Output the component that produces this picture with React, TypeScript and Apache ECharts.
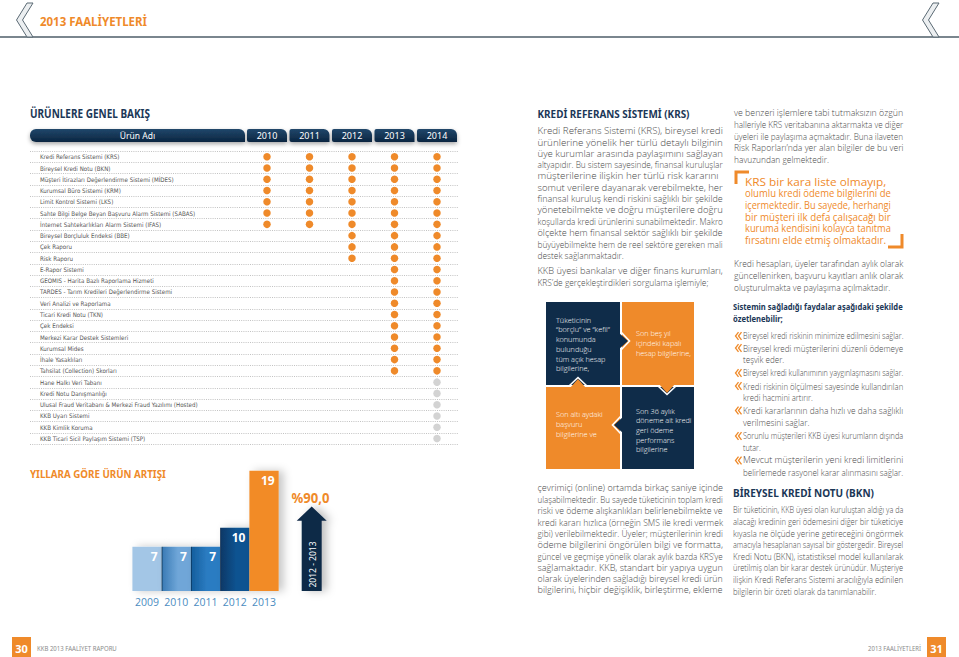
import React, { useEffect, useRef } from "react";
import * as echarts from "echarts";

// ---------------- DATA ----------------
const pageTitle = "2013 FAALİYETLERİ";
const tableTitle = "ÜRÜNLERE GENEL BAKIŞ";
const productHeader = "Ürün Adı";
const tableYears = ["2010", "2011", "2012", "2013", "2014"];
const products = [
  "Kredi Referans Sistemi (KRS)",
  "Bireysel Kredi Notu (BKN)",
  "Müşteri İtirazları Değerlendirme Sistemi (MİDES)",
  "Kurumsal Büro Sistemi (KRM)",
  "Limit Kontrol Sistemi (LKS)",
  "Sahte Bilgi Belge Beyan Başvuru Alarm Sistemi (SABAS)",
  "İnternet Sahtekarlıkları Alarm Sistemi (IFAS)",
  "Bireysel Borçluluk Endeksi (BBE)",
  "Çek Raporu",
  "Risk Raporu",
  "E-Rapor Sistemi",
  "GEOMIS - Harita Bazlı Raporlama Hizmeti",
  "TARDES - Tarım Kredileri Değerlendirme Sistemi",
  "Veri Analizi ve Raporlama",
  "Ticari Kredi Notu (TKN)",
  "Çek Endeksi",
  "Merkezi Karar Destek Sistemleri",
  "Kurumsal Mides",
  "İhale Yasaklıları",
  "Tahsilat (Collection) Skorları",
  "Hane Halkı Veri Tabanı",
  "Kredi Notu Danışmanlığı",
  "Ulusal Fraud Veritabanı & Merkezi Fraud Yazılımı (Hosted)",
  "KKB Uyarı Sistemi",
  "KKB Kimlik Koruma",
  "KKB Ticari Sicil Paylaşım Sistemi (TSP)",
];
const productStartYear = [
  2010, 2010, 2010, 2010, 2010, 2010, 2010,
  2012, 2012, 2012,
  2013, 2013, 2013, 2013, 2013, 2013, 2013, 2013, 2013, 2013,
  2014, 2014, 2014, 2014, 2014, 2014,
];
const productPlanned = [
  false, false, false, false, false, false, false, false, false, false,
  false, false, false, false, false, false, false, false, false, false,
  true, true, true, true, true, true,
];

const growthTitle = "YILLARA GÖRE ÜRÜN ARTIŞI";
const growthYears = ["2009", "2010", "2011", "2012", "2013"];
const growthCounts = [7, 7, 7, 10, 19];
const growthRate = "%90,0";
const growthPeriod = "2012 - 2013";

// ---------------- TEXT CONTENT ----------------
const krsTitle = "KREDİ REFERANS SİSTEMİ (KRS)";
const krsPara1 = [
  "Kredi Referans Sistemi (KRS), bireysel kredi",
  "ürünlerine yönelik her türlü detaylı bilginin",
  "üye kurumlar arasında paylaşımını sağlayan",
  "altyapıdır. Bu sistem sayesinde, finansal kuruluşlar",
  "müşterilerine ilişkin her türlü risk kararını",
  "somut verilere dayanarak verebilmekte, her",
  "finansal kuruluş kendi riskini sağlıklı bir şekilde",
  "yönetebilmekte ve doğru müşterilere doğru",
  "koşullarda kredi ürünlerini sunabilmektedir. Makro",
  "ölçekte hem finansal sektör sağlıklı bir şekilde",
  "büyüyebilmekte hem de reel sektöre gereken mali",
  "destek sağlanmaktadır.",
];
const krsPara2 = [
  "KKB üyesi bankalar ve diğer finans kurumları,",
  "KRS’de gerçekleştirdikleri sorgulama işlemiyle;",
];
const boxTL = ["Tüketicinin", "“borçlu” ve “kefil”", "konumunda", "bulunduğu", "tüm açık hesap", "bilgilerine,"];
const boxTR = ["Son beş yıl", "içindeki kapalı", "hesap bilgilerine,"];
const boxBL = ["Son altı aydaki", "başvuru", "bilgilerine ve"];
const boxBR = ["Son 36 aylık", "döneme ait kredi", "geri ödeme", "performans", "bilgilerine"];
const krsPara3 = [
  "çevrimiçi (online) ortamda birkaç saniye içinde",
  "ulaşabilmektedir. Bu sayede tüketicinin toplam kredi",
  "riski ve ödeme alışkanlıkları belirlenebilmekte ve",
  "kredi kararı hızlıca (örneğin SMS ile kredi vermek",
  "gibi) verilebilmektedir. Üyeler; müşterilerinin kredi",
  "ödeme bilgilerini öngörülen bilgi ve formatta,",
  "güncel ve geçmişe yönelik olarak aylık bazda KRS’ye",
  "sağlamaktadır. KKB, standart bir yapıya uygun",
  "olarak üyelerinden sağladığı bireysel kredi ürün",
  "bilgilerini, hiçbir değişiklik, birleştirme, ekleme",
];
const col2Para1 = [
  "ve benzeri işlemlere tabi tutmaksızın özgün",
  "halleriyle KRS veritabanına aktarmakta ve diğer",
  "üyeleri ile paylaşıma açmaktadır. Buna ilaveten",
  "Risk Raporları’nda yer alan bilgiler de bu veri",
  "havuzundan gelmektedir.",
];
const quoteLines = [
  "KRS bir kara liste olmayıp,",
  "olumlu kredi ödeme bilgilerini de",
  "içermektedir. Bu sayede, herhangi",
  "bir müşteri ilk defa çalışacağı bir",
  "kuruma kendisini kolayca tanıtma",
  "fırsatını elde etmiş olmaktadır.",
];
const col2Para2 = [
  "Kredi hesapları, üyeler tarafından aylık olarak",
  "güncellenirken, başvuru kayıtları anlık olarak",
  "oluşturulmakta ve paylaşıma açılmaktadır.",
];
const benefitsTitle = ["Sistemin sağladığı faydalar aşağıdaki şekilde", "özetlenebilir;"];
const benefits = [
  ["Bireysel kredi riskinin minimize edilmesini sağlar."],
  ["Bireysel kredi müşterilerini düzenli ödemeye", "teşvik eder."],
  ["Bireysel kredi kullanımının yaygınlaşmasını sağlar."],
  ["Kredi riskinin ölçülmesi sayesinde kullandırılan", "kredi hacmini artırır."],
  ["Kredi kararlarının daha hızlı ve daha sağlıklı", "verilmesini sağlar."],
  ["Sorunlu müşterileri KKB üyesi kurumların dışında", "tutar."],
  ["Mevcut müşterilerin yeni kredi limitlerini", "belirlemede rasyonel karar alınmasını sağlar."],
];
const bknTitle = "BİREYSEL KREDİ NOTU (BKN)";
const bknPara = [
  "Bir tüketicinin, KKB üyesi olan kuruluştan aldığı ya da",
  "alacağı kredinin geri ödemesini diğer bir tüketiciye",
  "kıyasla ne ölçüde yerine getireceğini öngörmek",
  "amacıyla hesaplanan sayısal bir göstergedir. Bireysel",
  "Kredi Notu (BKN), istatistiksel model kullanılarak",
  "üretilmiş olan bir karar destek ürünüdür. Müşteriye",
  "ilişkin Kredi Referans Sistemi aracılığıyla edinilen",
  "bilgilerin bir özeti olarak da tanımlanabilir.",
];
const footerLeft = "KKB 2013 FAALİYET RAPORU";
const footerRight = "2013 FAALİYETLERİ";
const pageLeft = "30";
const pageRight = "31";

// ---------------- STYLE ----------------
const FAMILY = '"Noto Sans", "Open Sans", sans-serif';
const BODY_FAMILY = '"Open Sans", "Noto Sans", sans-serif';
const BODY_WEIGHT = "300";
const ORANGE = "#ef8a2a";
const NAVY = "#0f2c49";
const HEAD = "#1b3757";
const BODY = "#4a4a4a";
const GRAY_DOT = "#d3d3d3";
const growthColors = ["#a3c6e6", "#6fa6d8", "#2b7cc2", "#0c5391", "#f28b26"];
const growthShade = ["#8fb5d9", "#3d7db7", "#16609f", "#073a69", "#f28b26"];

let mctx: CanvasRenderingContext2D | null = null;
function measure(text: string, size: number, weight = "normal", family = FAMILY) {
  if (!mctx) mctx = document.createElement("canvas").getContext("2d");
  mctx!.font = `${weight} ${size}px ${family}`;
  return mctx!.measureText(text).width;
}
function hasFont(name: string) {
  const s = "abcdefghijklmnopqrstuvwxyz ÜİŞ 0123456789";
  const a = measure(s, 20, "normal", `"${name}", monospace`);
  const b = measure(s, 20, "normal", `"${name}", serif`);
  return Math.abs(a - b) < 0.05;
}

type TOpt = {
  size: number;
  color: string;
  weight?: string;
  width?: number;
  scale?: number;
  align?: string;
  family?: string;
  rotation?: number;
  z?: number;
};
function txt(text: string, x: number, y: number, o: TOpt) {
  const family = o.family || FAMILY;
  const weight = o.weight || "normal";
  let scaleX = o.scale ?? 1;
  if (o.width) scaleX = o.width / measure(text, o.size, weight, family);
  return {
    type: "text",
    x,
    y,
    scaleX,
    rotation: o.rotation ?? 0,
    silent: true,
    z: o.z ?? 10,
    style: {
      text,
      fill: o.color,
      fontSize: o.size,
      fontWeight: weight,
      fontFamily: family,
      align: o.align || "left",
      verticalAlign: "middle",
    },
  };
}
function para(
  lines: string[], x: number, y0: number, dy: number, width: number,
  size: number, color: string, weight = BODY_WEIGHT, justifyLast = false, family = BODY_FAMILY
) {
  const scales = lines.map((l) => width / measure(l, size, weight, family));
  const body = justifyLast ? scales : scales.slice(0, -1);
  const avg = body.length ? body.reduce((a, b) => a + b, 0) / body.length : 1;
  return lines.map((l, i) => {
    const isLast = i === lines.length - 1 && !justifyLast;
    let s = isLast ? Math.min(1, avg) : Math.min(Math.max(scales[i], 0.6), 1.18);
    if (isLast && s > scales[i]) s = scales[i];
    return txt(l, x, y0 + i * dy, { size, color, weight, scale: s, family });
  });
}

function buildOption() {
  // table layout
  const T_LEFT = 30, T_RIGHT = 458.25, T_TOP = 151.1, ROW_H = 11.27;
  const YEAR_X0 = 267, YEAR_STEP = 42.5;
  const firstYear = Number(tableYears[0]);
  const xMin = firstYear - (YEAR_X0 - T_LEFT) / YEAR_STEP;
  const xMax = firstYear + (T_RIGHT - YEAR_X0) / YEAR_STEP;

  const activeDots: any[] = [];
  const plannedDots: any[] = [];
  products.forEach((p, i) => {
    tableYears.forEach((ys) => {
      const y = Number(ys);
      if (y >= productStartYear[i]) {
        (productPlanned[i] ? plannedDots : activeDots).push([y, p]);
      }
    });
  });

  let labelFamily = BODY_FAMILY;
  if (hasFont("Liberation Sans Narrow")) labelFamily = '"Liberation Sans Narrow", sans-serif';
  else if (hasFont("DejaVu Sans Condensed")) labelFamily = '"DejaVu Sans Condensed", sans-serif';
  const longest = products[22];
  let labelSize = (7 * 158) / measure(longest, 7, "normal", labelFamily);
  labelSize = Math.min(7.2, labelSize);

  // bar layout
  const B_LEFT = 132.4, B_W = 146.25, B_BOTTOM = 591, B_MAX = 20, PX_PER = 6.33;
  const B_H = B_MAX * PX_PER;

  const g: any[] = [];

  // Header
  const chev = (dx: number) => ({
    type: "polygon",
    z: 5,
    shape: { points: [[27 + dx, 3], [33 + dx, 3], [22.5 + dx, 20], [33 + dx, 37], [27 + dx, 37], [16.5 + dx, 20]] },
    style: { fill: "#eceff1", stroke: "#5b6a74", lineWidth: 1 },
  });
  g.push({ type: "line", z: 4, shape: { x1: 0, y1: 37, x2: 959, y2: 37 }, style: { stroke: "#4e5e69", lineWidth: 1.5 } });
  g.push(chev(0));
  g.push(chev(906));
  g.push(txt(pageTitle, 40, 21, { size: 13, color: ORANGE, weight: "bold", width: 107 }));

  // Table title + tabs
  g.push(txt(tableTitle, 30, 113, { size: 11.5, color: HEAD, weight: "bold", width: 120 }));
  const tabFill = {
    type: "linear", x: 0, y: 0, x2: 0, y2: 1,
    colorStops: [{ offset: 0, color: "#21476b" }, { offset: 1, color: "#0b2641" }],
  };
  g.push({
    type: "rect", z: 6,
    shape: { x: 30, y: 129, width: 215, height: 13, r: [6, 6, 0, 6] },
    style: { fill: tabFill, shadowBlur: 4, shadowOffsetY: 2, shadowColor: "rgba(0,0,0,0.35)" },
  });
  g.push(txt(productHeader, 137.5, 135.5, { size: 8.5, color: "#ffffff", align: "center", z: 11 }));
  tableYears.forEach((y, i) => {
    const cx = YEAR_X0 + i * YEAR_STEP;
    g.push({
      type: "rect", z: 6,
      shape: { x: cx - 20, y: 129, width: 40, height: 13, r: [2, 6, 0, 2] },
      style: { fill: tabFill, shadowBlur: 4, shadowOffsetY: 2, shadowColor: "rgba(0,0,0,0.35)" },
    });
    g.push(txt(y, cx, 135.5, { size: 9, color: "#ffffff", align: "center", z: 11 }));
  });

  // Growth chart extras
  g.push(txt(growthTitle, 30, 474, { size: 10.5, color: ORANGE, weight: "bold", width: 136 }));
  g.push({
    type: "polygon", z: 5,
    shape: { points: [[311.7, 506.5], [326.7, 520.7], [321.7, 520.7], [321.7, 591], [301.7, 591], [301.7, 520.7], [296.7, 520.7]] },
    style: { fill: "#0c2a47", shadowBlur: 8, shadowOffsetX: 5, shadowColor: "rgba(0,0,0,0.25)" },
  });
  g.push(txt(growthRate, 310.5, 497.5, { size: 14, color: ORANGE, weight: "bold", align: "center", width: 38 }));
  g.push(txt(growthPeriod, 312, 564.5, { size: 8.5, color: "#ffffff", align: "center", rotation: Math.PI / 2, z: 12 }));

  // Column 1
  const C1X = 537.5, C1W = 185, FS = 8.4;
  g.push(txt(krsTitle, C1X, 114, { size: 11, color: HEAD, weight: "bold", width: 152 }));
  g.push(...para(krsPara1, C1X, 131, 11.3, C1W, FS, BODY));
  g.push(...para(krsPara2, C1X, 271, 11.5, C1W, FS, BODY));

  // Quadrant boxes
  const LX = 546, MX1 = 620, MX2 = 622, RX = 694, TY = 302, MY1 = 385, MY2 = 387, BY = 469;
  g.push({ type: "rect", z: 5, shape: { x: LX, y: TY, width: MX1 - LX, height: MY1 - TY }, style: { fill: NAVY } });
  g.push({ type: "rect", z: 5, shape: { x: MX2, y: TY, width: RX - MX2, height: MY1 - TY }, style: { fill: ORANGE } });
  g.push({ type: "rect", z: 5, shape: { x: LX, y: MY2, width: MX1 - LX, height: BY - MY2 }, style: { fill: ORANGE } });
  g.push({ type: "rect", z: 5, shape: { x: MX2, y: MY2, width: RX - MX2, height: BY - MY2 }, style: { fill: NAVY } });
  const tri = (pts: number[][], fill: string, outline: number[][]) => {
    g.push({ type: "polygon", z: 6, shape: { points: pts }, style: { fill } });
    g.push({ type: "polyline", z: 7, shape: { points: outline }, style: { stroke: "#ffffff", lineWidth: 1.6, fill: null } });
  };
  tri([[619, 333], [628, 341], [619, 349]], NAVY, [[621, 332], [629.5, 341], [621, 350]]);
  tri([[659, 384], [667, 393], [675, 384]], ORANGE, [[658, 386], [667, 394.5], [676, 386]]);
  tri([[623, 417], [614, 425], [623, 433]], NAVY, [[621, 416], [612.5, 425], [621, 434]]);
  tri([[570, 388], [578, 379], [586, 388]], ORANGE, [[569, 386], [578, 377.5], [587, 386]]);
  const boxText = (lines: string[], x: number, cy: number) => {
    const dy = 9.7;
    const y0 = cy - ((lines.length - 1) * dy) / 2;
    lines.forEach((l, i) =>
      g.push(txt(l, x, y0 + i * dy, { size: 7.3, color: "#ffffff", z: 12, family: BODY_FAMILY, weight: BODY_WEIGHT }))
    );
  };
  boxText(boxTL, 556, 344);
  boxText(boxTR, 636, 343);
  boxText(boxBL, 556, 424);
  boxText(boxBR, 636, 430);

  g.push(...para(krsPara3, C1X, 488, 11.4, C1W, FS, BODY, BODY_WEIGHT, true));

  // Column 2
  const C2X = 734, C2W = 169;
  g.push(...para(col2Para1, C2X, 113.5, 11.4, C2W, FS, BODY));
  g.push({ type: "polyline", z: 6, shape: { points: [[736, 184], [736, 172], [749, 172]] }, style: { stroke: ORANGE, lineWidth: 3, fill: null } });
  g.push({ type: "polyline", z: 6, shape: { points: [[888, 247], [902, 247], [902, 234]] }, style: { stroke: ORANGE, lineWidth: 3, fill: null } });
  g.push(...para(quoteLines, 745, 182, 11.6, 146, 10, ORANGE, "normal", false, BODY_FAMILY));
  g.push(...para(col2Para2, C2X, 264, 11.5, C2W, FS, BODY));
  g.push(...para(benefitsTitle, 733, 306, 12, 170, 9, HEAD, "bold", false, FAMILY));
  const bulletY = [336, 348, 373, 386, 410.5, 436, 460.5];
  benefits.forEach((lines, k) => {
    const y = bulletY[k];
    const bx = 735.5;
    g.push({ type: "polyline", z: 6, shape: { points: [[bx + 3, y - 3.8], [bx, y], [bx + 3, y + 3.8]] }, style: { stroke: ORANGE, lineWidth: 1.3, fill: null } });
    g.push({ type: "polyline", z: 6, shape: { points: [[bx + 6, y - 3.8], [bx + 3, y], [bx + 6, y + 3.8]] }, style: { stroke: ORANGE, lineWidth: 1.3, fill: null } });
    if (lines.length === 1) {
      g.push(txt(lines[0], 743, y, { size: FS, color: BODY, width: 160, family: BODY_FAMILY, weight: BODY_WEIGHT }));
    } else {
      g.push(...para(lines, 743, y, 11.5, 160, FS, BODY));
    }
  });
  g.push(txt(bknTitle, 733, 493, { size: 11, color: HEAD, weight: "bold", width: 141 }));
  g.push(...para(bknPara, 733, 510, 11.57, 170, FS, BODY));

  // Footer
  g.push({ type: "rect", z: 5, shape: { x: 12, y: 637, width: 19, height: 20 }, style: { fill: ORANGE } });
  g.push(txt(pageLeft, 21.5, 648, { size: 11, color: "#ffffff", weight: "bold", align: "center" }));
  g.push(txt(footerLeft, 37, 648, { size: 6.5, color: "#8c8c8c", width: 80 }));
  g.push({ type: "rect", z: 5, shape: { x: 927, y: 637, width: 19, height: 20 }, style: { fill: ORANGE } });
  g.push(txt(pageRight, 936.5, 648, { size: 11, color: "#ffffff", weight: "bold", align: "center" }));
  g.push(txt(footerRight, 921, 648, { size: 6.5, color: "#8c8c8c", align: "right", width: 53 }));

  const barData = growthCounts.map((v, i) => ({
    value: v,
    itemStyle: {
      color: i === growthCounts.length - 1
        ? growthColors[i]
        : {
            type: "linear", x: 0, y: 0, x2: 1, y2: 0,
            colorStops: [
              { offset: 0, color: i === 0 ? growthColors[i] : "#0b2b4a" },
              { offset: 0.05, color: i === 0 ? growthColors[i] : growthShade[i] },
              { offset: 0.55, color: growthColors[i] },
              { offset: 1, color: growthColors[i] },
            ],
          },
    },
  }));

  return {
    animation: false,
    backgroundColor: "#ffffff",
    textStyle: { fontFamily: FAMILY },
    grid: [
      { left: T_LEFT, top: T_TOP, width: T_RIGHT - T_LEFT, height: ROW_H * products.length, containLabel: false },
      { left: B_LEFT, top: B_BOTTOM - B_H, width: B_W, height: B_H, containLabel: false },
    ],
    xAxis: [
      { type: "value", gridIndex: 0, min: xMin, max: xMax, show: false, splitLine: { show: false } },
      {
        type: "category", gridIndex: 1, data: growthYears,
        axisLine: { show: false }, axisTick: { show: false },
        axisLabel: { interval: 0, color: "#4b8cbf", fontSize: 10.5, margin: 5, fontFamily: BODY_FAMILY },
      },
    ],
    yAxis: [
      {
        type: "category", gridIndex: 0, data: products, inverse: true,
        axisLine: { show: false }, axisTick: { show: false },
        axisLabel: { interval: 0, inside: true, margin: 10, align: "left", color: "#555555", fontSize: labelSize, fontFamily: labelFamily },
        splitLine: { show: true, interval: 0, lineStyle: { type: [1, 1.2], color: "#c2c2c2", width: 1 } },
      },
      { type: "value", gridIndex: 1, min: 0, max: B_MAX, show: false, splitLine: { show: false } },
    ],
    series: [
      {
        type: "scatter", xAxisIndex: 0, yAxisIndex: 0, data: activeDots,
        symbol: "circle", symbolSize: 7.5, itemStyle: { color: ORANGE, opacity: 1 }, silent: true,
      },
      {
        type: "scatter", xAxisIndex: 0, yAxisIndex: 0, data: plannedDots,
        symbol: "circle", symbolSize: 7.5, itemStyle: { color: GRAY_DOT, opacity: 1 }, silent: true,
      },
      {
        type: "bar", xAxisIndex: 1, yAxisIndex: 1, data: barData,
        barWidth: "100%", barCategoryGap: "0%", silent: true,
        itemStyle: { shadowBlur: 8, shadowOffsetX: 5, shadowColor: "rgba(0,0,0,0.22)" },
        label: { show: true, position: "insideTopRight", distance: 4, color: "#ffffff", fontSize: 12, fontWeight: "bold", fontFamily: FAMILY },
      },
    ],
    graphic: { elements: g },
  };
}

export default function App() {
  const ref = useRef<HTMLDivElement>(null);
  useEffect(() => {
    const chart = echarts.init(ref.current!, null, { renderer: "svg" });
    chart.setOption(buildOption() as any);
    return () => chart.dispose();
  }, []);
  return (
    <div
      ref={ref}
      style={{ position: "fixed", left: 0, top: 0, width: 959, height: 657, background: "#ffffff" }}
    />
  );
}
